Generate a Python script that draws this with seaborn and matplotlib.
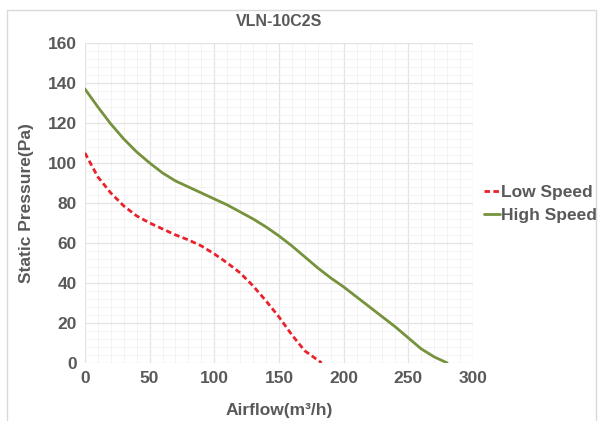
import numpy as np
import pandas as pd
import matplotlib
matplotlib.use("Agg")
import matplotlib.pyplot as plt
import seaborn as sns
from matplotlib.patches import Rectangle
from matplotlib.ticker import MultipleLocator

# Fan curve data
low_airflow = [0, 5, 10, 20, 30, 40, 50, 60, 70, 80, 90, 100, 110, 120, 130, 140, 150, 160, 170, 183]
low_pressure = [105, 99, 93, 85, 78.5, 73.5, 70, 67, 64, 61.5, 58.5, 54.5, 50, 45, 38.5, 31, 23, 14, 6, 0]

high_airflow = [0, 10, 20, 30, 40, 50, 60, 70, 80, 90, 100, 110, 120, 130, 140, 150,
                160, 170, 180, 190, 200, 210, 220, 230, 240, 250, 260, 270, 280]
high_pressure = [137, 128, 119.5, 112, 105.5, 100, 95, 91, 88, 85, 82, 79, 75.5, 72, 68, 63.5,
                 58.5, 53, 47.5, 42.5, 38, 33, 28, 23, 18, 12.5, 7, 3, 0]

sns.set_style("white")
plt.rcParams['font.family'] = ['Liberation Sans', 'DejaVu Sans']

grey = "#595959"
red = "#E8212A"
green = "#76923C"

fig = plt.figure(figsize=(5.98, 4.21), dpi=100)
ax = fig.add_axes([0.142, 0.138, 0.649, 0.76])

sns.lineplot(x=low_airflow, y=low_pressure, ax=ax, color=red, lw=2,
             linestyle=(0, (2, 1.2)), label="Low Speed")
sns.lineplot(x=high_airflow, y=high_pressure, ax=ax, color=green, lw=2,
             label="High Speed")

ax.set_xlim(0, 300)
ax.set_ylim(0, 160)
ax.xaxis.set_major_locator(MultipleLocator(50))
ax.xaxis.set_minor_locator(MultipleLocator(10))
ax.yaxis.set_major_locator(MultipleLocator(20))
ax.yaxis.set_minor_locator(MultipleLocator(4))
ax.grid(which="major", color="#e3e3e3", lw=0.9)
ax.grid(which="minor", color="#f3f3f3", lw=0.7)
ax.set_axisbelow(True)
for s in ax.spines.values():
    s.set_visible(False)
ax.tick_params(which="both", length=0, colors=grey, labelsize=12.5, pad=6)
for t in ax.get_xticklabels() + ax.get_yticklabels():
    t.set_fontweight("bold")

ax.set_xlabel("Airflow(m³/h)", fontsize=12.5, fontweight="bold", color=grey, labelpad=12)
ax.set_ylabel("Static Pressure(Pa)", fontsize=12.5, fontweight="bold", color=grey, labelpad=10)
ax.set_title("VLN-10C2S", fontsize=11.5, fontweight="bold", color=grey, pad=12)

ax.legend_.remove()
h, l = ax.get_legend_handles_labels()
fig.legend(h, l, loc="center left", bbox_to_anchor=(0.795, 0.515), frameon=False,
           handlelength=0.9, handletextpad=0.1, labelspacing=0.45, borderpad=0,
           prop={"size": 12.5, "weight": "bold"}, labelcolor=grey)

fig.patches.append(Rectangle((7 / 598, -0.02), 589 / 598, 1 - 10 / 421 + 0.02,
                             transform=fig.transFigure, fill=False,
                             edgecolor="#d9d9d9", lw=1))

fig.savefig("out.png", dpi=100)
